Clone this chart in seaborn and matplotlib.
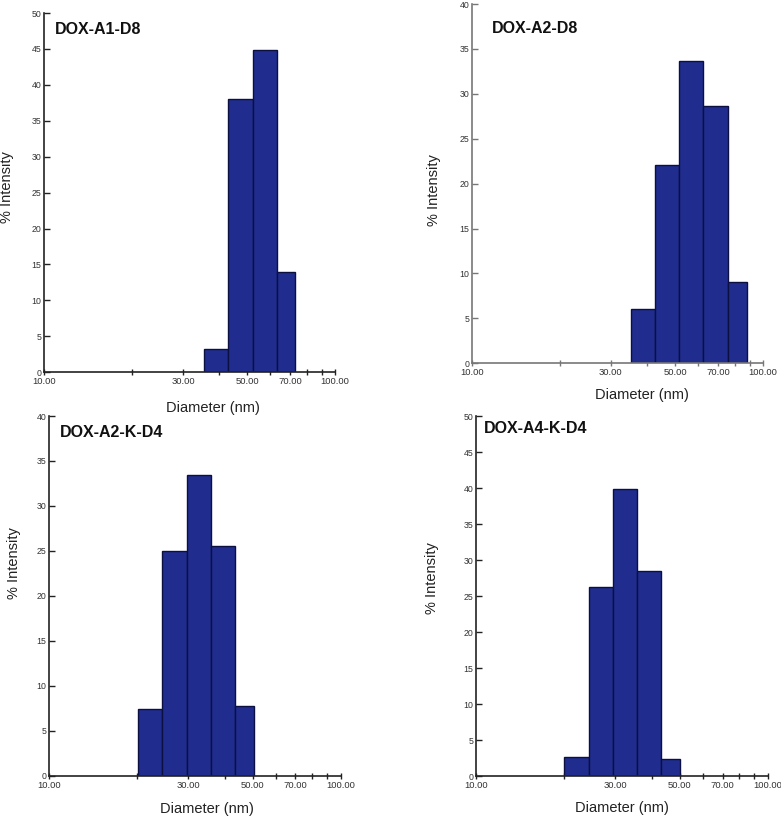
import numpy as np
import pandas as pd
import matplotlib
matplotlib.use("Agg")
import matplotlib.pyplot as plt
from matplotlib.ticker import FixedLocator, FixedFormatter, NullLocator
import seaborn as sns

# --- datos (diámetro en nm, % intensidad) ---
nombres = ["DOX-A1-D8", "DOX-A2-D8", "DOX-A2-K-D4", "DOX-A4-K-D4"]

bordes_a1_d8 = [35.4, 42.9, 52.1, 63.0, 72.8]
inten_a1_d8 = [3.2, 38.0, 44.9, 13.9]

bordes_a2_d8 = [35.1, 42.6, 51.6, 62.4, 76.0, 87.9]
inten_a2_d8 = [6.0, 22.1, 33.6, 28.6, 9.1]

bordes_a2_k_d4 = [20.1, 24.4, 29.6, 35.8, 43.4, 50.4]
inten_a2_k_d4 = [7.45, 25.0, 33.4, 25.6, 7.8]

bordes_a4_k_d4 = [20.0, 24.3, 29.4, 35.6, 43.1, 49.9]
inten_a4_k_d4 = [2.7, 26.2, 39.8, 28.5, 2.4]

y_max = [50, 40, 40, 50]

ticks_x = [10, 20, 30, 40, 50, 60, 70, 80, 90, 100]
etiquetas_x = ["10.00", "", "30.00", "", "50.00", "", "70.00", "", "", "100.00"]

# --- estilo ---
sns.set_style("white")
plt.rcParams["font.family"] = ["Liberation Sans", "DejaVu Sans"]

COLOR_BARRA = "#202d8f"
COLOR_BORDE = "#0b1040"

# posiciones de los ejes en fracción de figura
posiciones = [
    [0.0567, 0.5449, 0.3722, 0.4392],
    [0.6044, 0.5559, 0.3726, 0.4392],
    [0.0631, 0.0517, 0.3730, 0.4397],
    [0.6095, 0.0513, 0.3735, 0.4401],
]
pos_titulo = [(0.037, 0.955), (0.068, 0.933), (0.037, 0.953), (0.028, 0.964)]
pos_ylabel = [(-0.103, 0.516), (-0.106, 0.482), (-0.097, 0.59), (-0.126, 0.55)]
pos_xlabel = [(0.58, -0.080), (0.583, -0.068), (0.54, -0.073), (0.50, -0.069)]
color_ejes = ["#222222", "#777777", "#222222", "#222222"]

bordes = [bordes_a1_d8, bordes_a2_d8, bordes_a2_k_d4, bordes_a4_k_d4]
intens = [inten_a1_d8, inten_a2_d8, inten_a2_k_d4, inten_a4_k_d4]

fig = plt.figure(figsize=(7.81, 8.18), dpi=100)

for i in range(4):
    ax = fig.add_axes(posiciones[i])
    ax.patch.set_alpha(0)
    b = np.array(bordes[i])
    df = pd.DataFrame({
        "diametro": np.sqrt(b[:-1] * b[1:]),
        "intensidad": intens[i],
    })

    sns.histplot(
        data=df,
        x="diametro",
        weights="intensidad",
        bins=list(bordes[i]),
        color=COLOR_BARRA,
        edgecolor=COLOR_BORDE,
        linewidth=1.0,
        alpha=1.0,
        ax=ax,
    )

    ax.set_xscale("log")
    ax.set_xlim(10, 100)
    ax.set_ylim(0, y_max[i])
    ax.xaxis.set_major_locator(FixedLocator(ticks_x))
    ax.xaxis.set_major_formatter(FixedFormatter(etiquetas_x))
    ax.xaxis.set_minor_locator(NullLocator())
    ax.set_yticks(np.arange(0, y_max[i] + 1, 5))

    c = color_ejes[i]
    sns.despine(ax=ax)
    for lado in ["left", "bottom"]:
        ax.spines[lado].set_color(c)
        ax.spines[lado].set_linewidth(1.2)

    ax.tick_params(axis="x", direction="inout", length=5, width=1.0,
                   color=c, labelsize=6.8, labelcolor="#333333", pad=1, bottom=True)
    ax.tick_params(axis="y", direction="in", length=4, width=1.0,
                   color=c, labelsize=6.3, labelcolor="#333333", pad=2, left=True)

    ax.set_xlabel("Diameter (nm)", fontsize=10.5, color="#222222")
    ax.set_ylabel("% Intensity", fontsize=10.5, color="#222222")
    ax.xaxis.set_label_coords(*pos_xlabel[i])
    ax.yaxis.set_label_coords(*pos_ylabel[i])

    ax.text(pos_titulo[i][0], pos_titulo[i][1], nombres[i], transform=ax.transAxes,
            fontsize=11.5, fontweight="bold", ha="left", va="center", color="#111111")

fig.savefig("out.png", dpi=100)
